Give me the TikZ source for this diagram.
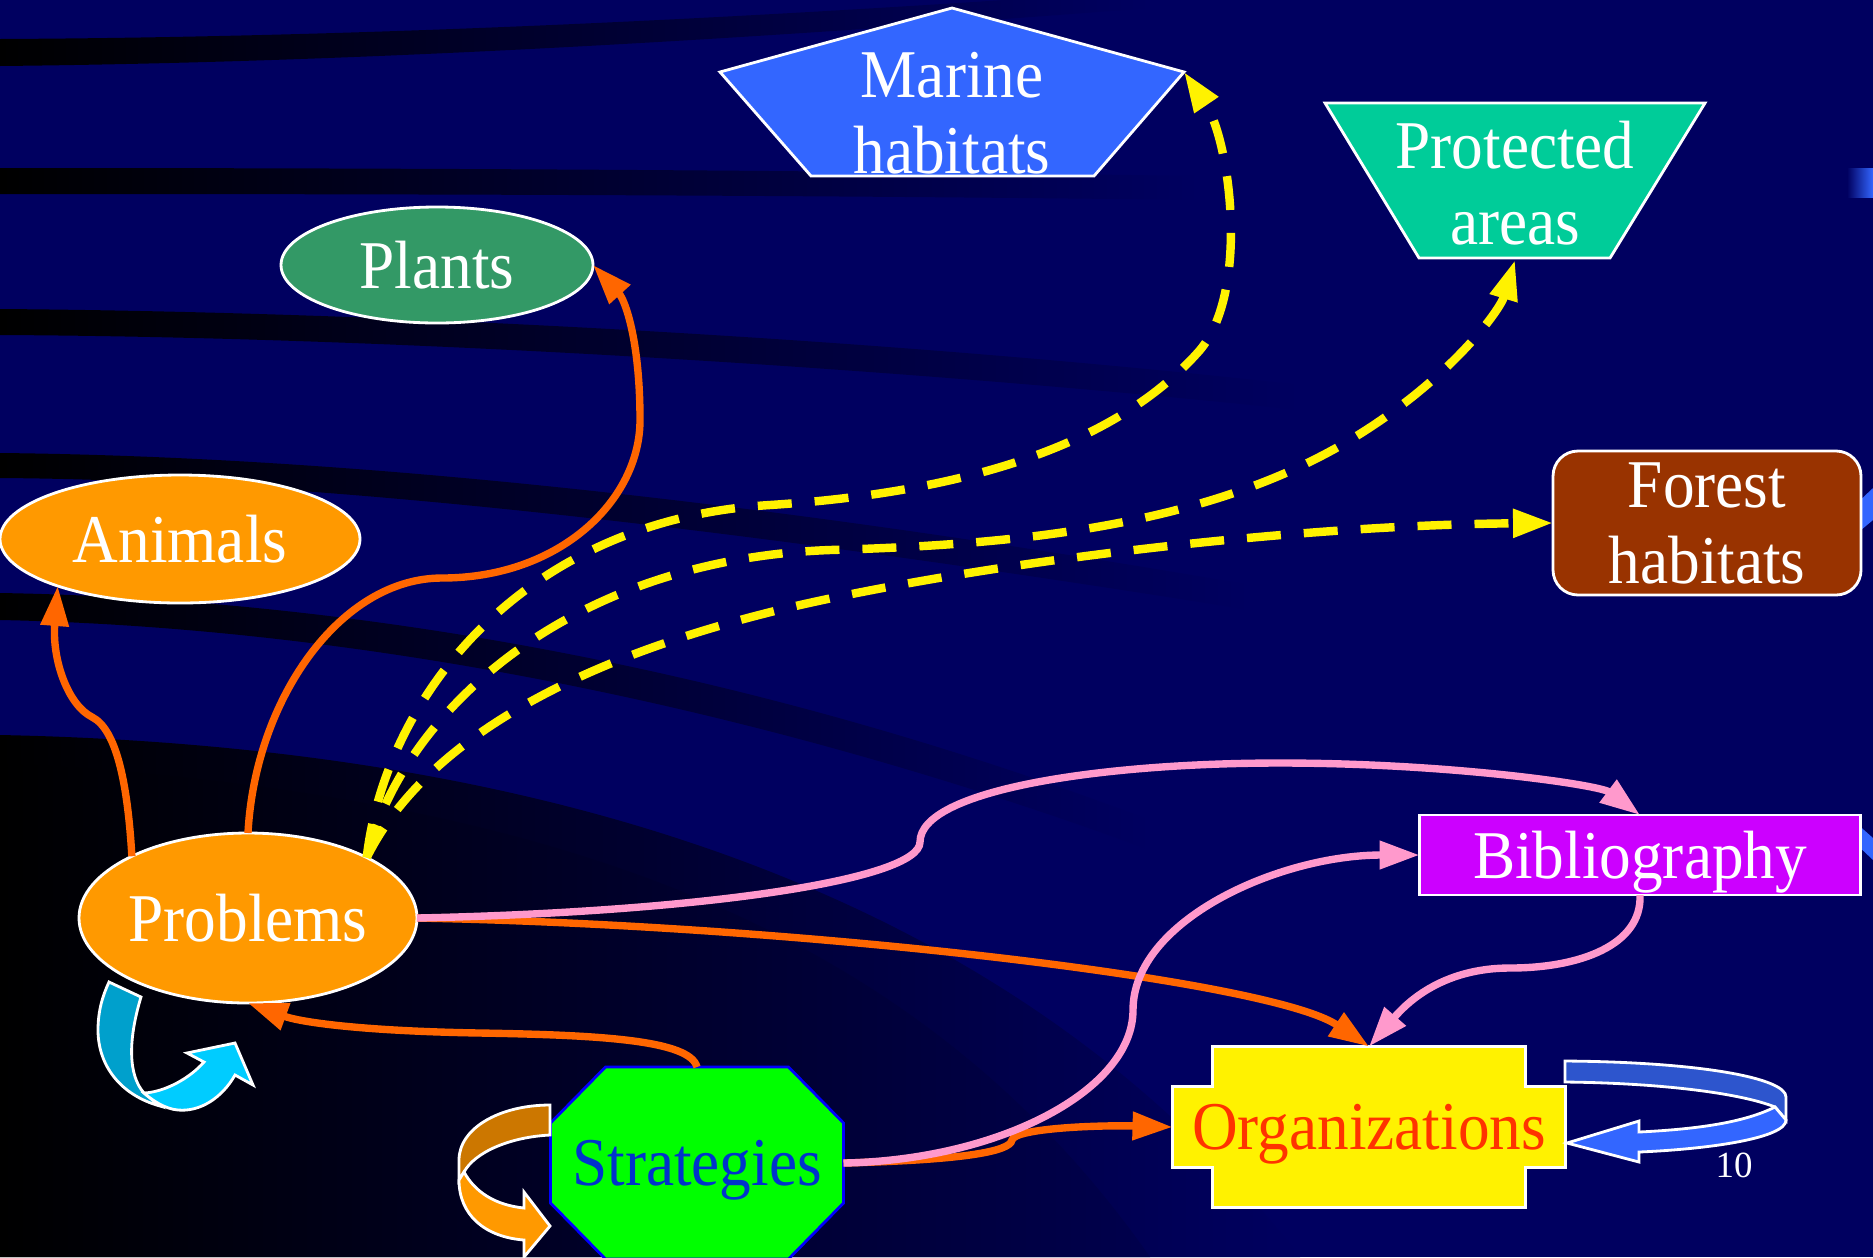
\documentclass[tikz,border=0pt]{standalone}
\usepackage{fontspec}
\usepackage{graphicx}
\setmainfont{Liberation Serif}
\usetikzlibrary{arrows.meta,calc,shapes.geometric}

\definecolor{navybg}{RGB}{0,0,96}
\definecolor{orangefill}{RGB}{255,153,0}
\definecolor{arroworange}{RGB}{255,102,0}
\definecolor{arrowpink}{RGB}{255,153,204}
\definecolor{plantgreen}{RGB}{51,153,102}
\definecolor{marineblue}{RGB}{51,102,255}
\definecolor{protgreen}{RGB}{0,204,153}
\definecolor{forestbrown}{RGB}{153,51,0}
\definecolor{bibpurple}{RGB}{204,0,255}
\definecolor{orgred}{RGB}{255,51,0}
\definecolor{stratblue}{RGB}{0,51,204}
\definecolor{loopcyan}{RGB}{0,204,255}
\definecolor{loopcyandark}{RGB}{0,160,204}
\definecolor{loopbrown}{RGB}{204,119,0}
\definecolor{loopbluedark}{RGB}{45,85,205}

\newcommand{\tallword}[1]{\scalebox{1}[1.08]{#1}}

\pgfdeclarelayer{back}
\pgfdeclarelayer{shapes}
\pgfsetlayers{back,shapes,main}

\tikzset{
	bigtext/.style={font=\fontsize{18}{21.6}\selectfont},
	box/.style={bigtext,draw=white,line width=0.8pt,text=white,inner sep=0pt,outer sep=0pt,align=center},
	oval/.style={box,ellipse},
	textonly/.style={bigtext,text=white,inner sep=0pt,outer sep=0pt,align=center},
	outline/.style={draw=white,line width=0.8pt},
	link/.style={line width=2.1pt,-{Triangle[length=0.4cm,width=0.27cm]}},
	orangelink/.style={link,arroworange},
	pinklink/.style={link,arrowpink},
	yellowlink/.style={link,yellow,line width=2.4pt,dash pattern=on 0.34cm off 0.23cm},
	band/.style={left color=black,right color=navybg},
}

\begin{document}
\begin{tikzpicture}[x=0.1mm,y=-0.1mm]
	\useasboundingbox (0,0) rectangle (1873,1257);

	% background
	\begin{pgfonlayer}{back}
		\clip (0,0) rectangle (1873,1257);
		\fill[navybg] (0,0) rectangle (1873,1257);
		\shade[band] (0,39) .. controls (400,37) and (800,15) .. (1150,-10) -- (1150,8) .. controls (800,35) and (400,62) .. (0,66) -- cycle;
		\shade[band] (0,168) .. controls (400,168) and (800,170) .. (1200,176) -- (1200,200) .. controls (800,195) and (400,194) .. (0,194) -- cycle;
		\shade[band] (0,309) .. controls (400,312) and (900,340) .. (1300,385) -- (1300,410) .. controls (900,368) and (400,337) .. (0,335) -- cycle;
		\shade[band] (0,453) .. controls (300,456) and (700,490) .. (1250,585) -- (1250,610) .. controls (700,522) and (300,480) .. (0,478) -- cycle;
		\shade[band] (0,593) .. controls (300,598) and (700,650) .. (1150,820) -- (1150,850) .. controls (700,685) and (300,626) .. (0,620) -- cycle;
		\shade[band] (0,735) .. controls (500,745) and (1000,870) .. (1300,1257) -- (0,1257) -- cycle;
		\shade[left color=black,right color=navybg!80!black] (0,763) .. controls (500,790) and (900,900) .. (1150,1257) -- (0,1257) -- cycle;
		% bits at the right edge
		\shade[left color=navybg,right color=marineblue] (1847,168) rectangle (1873,197);
		\fill[marineblue] (1855,505) -- (1873,488) -- (1873,520) -- (1855,535) -- cycle;
		\fill[marineblue] (1855,822) -- (1873,838) -- (1873,860) -- (1855,843) -- cycle;
	\end{pgfonlayer}

	% nodes
	\node[oval,fill=orangefill,minimum width=3.35cm,minimum height=1.7cm] (problems) at (248,918) {\tallword{Problems}};
	\node[oval,fill=orangefill,minimum width=3.6cm,minimum height=1.28cm] (animals) at (180,539) {\tallword{Animals}};
	\node[oval,fill=plantgreen,minimum width=3.12cm,minimum height=1.16cm] (plants) at (437,265) {\tallword{Plants}};
	\node[box,rounded corners=0.25cm,fill=forestbrown,minimum width=3.08cm,minimum height=1.44cm] (forest) at (1707,523) {\tallword{Forest}\\\tallword{habitats}};
	\node[box,fill=bibpurple,text depth=0pt,minimum width=4.41cm,minimum height=0.8cm] (bib) at (1640,855) {\tallword{Bibliography}};
	\node[textonly] (marine) at (952,113) {\tallword{Marine}\\\tallword{habitats}};
	\node[textonly] (prot) at (1515,183) {\tallword{Protected}\\\tallword{areas}};
	\node[textonly,text=orgred,text depth=0pt,minimum width=3.93cm,minimum height=1.61cm] (org) at (1369,1127) {\tallword{Organizations}};
	\node[textonly,text=stratblue,text depth=0pt,minimum width=2.93cm,minimum height=1.92cm] (strat) at (697,1163) {\tallword{Strategies}};
	\node[font=\fontsize{10.5}{12}\selectfont,text=white] (pagenum) at (1734,1165) {10};

	% polygon shapes behind the texts
	\begin{pgfonlayer}{shapes}
		\draw[outline,fill=marineblue] ($(marine)+(0,-105)$) -- ($(marine)+(232,-41)$) coordinate (marine-e) -- ($(marine)+(142,63)$) -- ($(marine)+(-141,63)$) -- ($(marine)+(-232,-41)$) -- cycle;
		\draw[outline,fill=protgreen] ($(prot)+(-190,-80)$) -- ($(prot)+(190,-80)$) -- ($(prot)+(95,75)$) -- ($(prot)+(-96,75)$) -- cycle;
		\coordinate (prot-s) at ($(prot)+(0,77)$);
		\draw[outline,fill=yellow] ([xshift=4mm]org.north west) -- ([xshift=-4mm]org.north east) |- ([yshift=-4mm]org.north east) -- ([yshift=4mm]org.south east) -| ([xshift=-4mm]org.south east) -- ([xshift=4mm]org.south west) |- ([yshift=4mm]org.south west) -- ([yshift=-4mm]org.north west) -| ([xshift=4mm]org.north west) -- cycle;
		\draw[draw=blue,line width=0.8pt,fill=green] ([xshift=5.5mm]strat.north west) -- ([xshift=-5.5mm]strat.north east) -- ([yshift=-5.6mm]strat.north east) -- ([yshift=5.6mm]strat.south east) -- ([xshift=-5.5mm]strat.south east) -- ([xshift=5.5mm]strat.south west) -- ([yshift=5.6mm]strat.south west) -- ([yshift=-5.6mm]strat.north west) -- cycle;
	\end{pgfonlayer}

	% turning arrows
	\draw[outline,fill=loopcyandark] (109,982) -- (141,997) .. controls (128,1040) and (128,1075) .. (144,1093) -- (160,1106) .. controls (120,1095) and (98,1065) .. (98,1030) .. controls (98,1010) and (103,995) .. (109,982) -- cycle;
	\draw[outline,fill=loopcyan] (144,1093) .. controls (165,1092) and (190,1078) .. (204,1062) -- (187,1053) -- (235,1043) -- (253,1085) -- (235,1075) .. controls (222,1098) and (200,1112) .. (178,1110) .. controls (165,1109) and (152,1100) .. (144,1093) -- cycle;
	\draw[outline,fill=loopbrown] (550,1105) -- (550,1135) .. controls (510,1137) and (475,1152) .. (464,1172) -- (459,1180) -- (459,1160) .. controls (459,1128) and (500,1105) .. (550,1105) -- cycle;
	\draw[outline,fill=orangefill] (464,1172) .. controls (475,1192) and (495,1205) .. (524,1208) -- (524,1192) -- (550,1226) -- (524,1257) -- (524,1240) .. controls (485,1237) and (459,1215) .. (459,1180) -- cycle;
	\draw[outline,fill=loopbluedark] (1565,1061) .. controls (1700,1062) and (1786,1078) .. (1786,1097) -- (1786,1120) -- (1775,1107) .. controls (1740,1093) and (1660,1083) .. (1565,1082) -- cycle;
	\draw[outline,fill=marineblue] (1775,1107) .. controls (1745,1122) and (1700,1129) .. (1639,1132) -- (1639,1121) -- (1567,1143) -- (1639,1162) -- (1639,1152) .. controls (1710,1149) and (1786,1138) .. (1786,1120) -- cycle;

	% orange links
	\draw[orangelink] (problems.152) .. controls (128,790) and (118,730) .. (92,717) .. controls (68,705) and (52,660) .. (animals.201);
	\draw[orangelink] (problems.north) .. controls (255,700) and (340,578) .. (442,578) .. controls (560,578) and (640,500) .. (640,420) .. controls (640,340) and (625,300) .. (plants.east);
	\draw[orangelink] (problems.east) .. controls (800,925) and (1270,980) .. (org.north);
	\draw[orangelink] (strat.north) .. controls (690,1040) and (600,1035) .. (480,1033) .. controls (360,1031) and (300,1022) .. (problems.south);
	\draw[orangelink] (strat.east) .. controls (960,1160) and (1010,1152) .. (1012,1140) .. controls (1015,1128) and (1100,1125) .. (org.west);

	% pink links
	\draw[pinklink] (problems.east) .. controls (700,912) and (920,880) .. (920,842) .. controls (920,790) and (1100,763) .. (1280,763) .. controls (1450,763) and (1600,785) .. (bib.north);
	\draw[pinklink] (bib.south) .. controls (1642,945) and (1580,968) .. (1510,968) .. controls (1440,968) and (1405,1005) .. (org.north);
	\draw[pinklink] (strat.east) .. controls (1000,1160) and (1133,1090) .. (1133,1010) .. controls (1133,920) and (1280,855) .. (bib.west);

	% yellow links
	\draw[yellowlink] (problems.27) .. controls (385,700) and (520,520) .. (770,505) .. controls (1000,490) and (1130,430) .. (1200,350) .. controls (1250,290) and (1230,140) .. (marine-e);
	\draw[yellowlink] (problems.27) .. controls (400,720) and (560,560) .. (830,550) .. controls (1000,545) and (1200,530) .. (1350,440) .. controls (1450,380) and (1500,310) .. (prot-s);
	\draw[yellowlink] (problems.27) .. controls (420,750) and (560,660) .. (800,605) .. controls (1000,560) and (1300,525) .. (forest.west);
\end{tikzpicture}
\end{document}
